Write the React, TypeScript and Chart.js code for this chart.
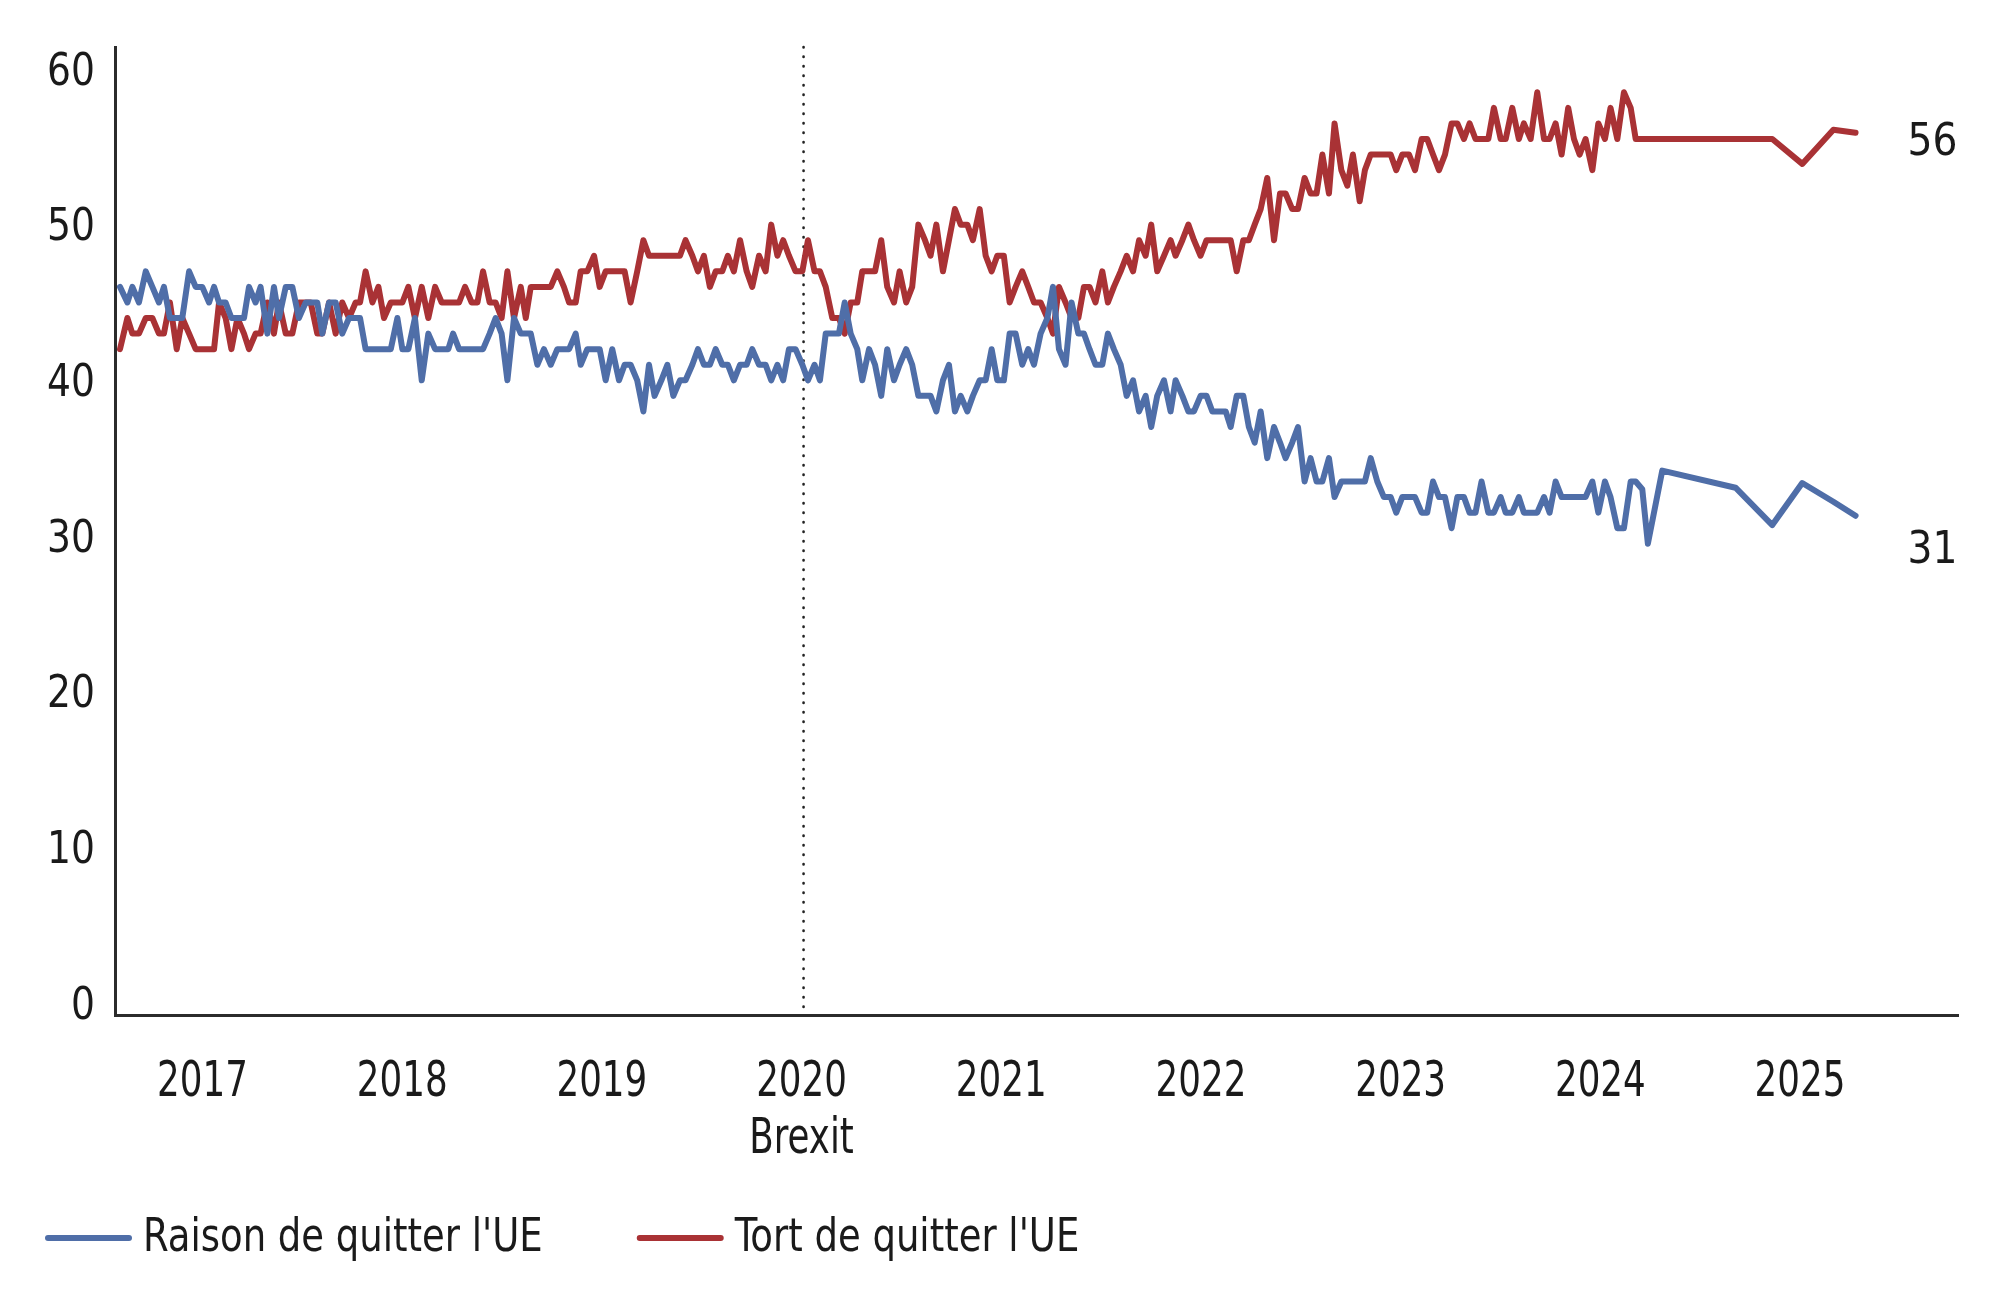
import React, { useEffect, useRef } from "react";
import { Chart, registerables } from "chart.js";

Chart.register(...registerables);

// Survey dates (decimal years)
const DATES = [
  2016.587, 2016.624, 2016.649, 2016.682, 2016.716, 2016.749, 2016.782, 2016.807, 2016.837, 2016.871,
  2016.899, 2016.933, 2016.966, 2016.999, 2017.033, 2017.058, 2017.083, 2017.116, 2017.145, 2017.175,
  2017.208, 2017.233, 2017.266, 2017.291, 2017.325, 2017.358, 2017.383, 2017.417, 2017.45, 2017.483,
  2017.517, 2017.542, 2017.575, 2017.6, 2017.634, 2017.667, 2017.7, 2017.734, 2017.767,
  2017.789, 2017.817, 2017.851, 2017.881, 2017.909, 2017.943, 2017.976, 2018.001, 2018.031, 2018.064,
  2018.098, 2018.131, 2018.165, 2018.198, 2018.231, 2018.255, 2018.285, 2018.315, 2018.348, 2018.377,
  2018.405, 2018.438, 2018.468, 2018.498, 2018.527, 2018.56, 2018.594, 2018.619, 2018.644, 2018.677,
  2018.71, 2018.744, 2018.777, 2018.81, 2018.836, 2018.869, 2018.894, 2018.927, 2018.961, 2018.989, 2019.019,
  2019.052, 2019.086, 2019.114, 2019.144, 2019.177, 2019.208, 2019.236, 2019.264, 2019.298, 2019.328,
  2019.358, 2019.391, 2019.419, 2019.453, 2019.481, 2019.511, 2019.541, 2019.57, 2019.603, 2019.631,
  2019.661, 2019.692, 2019.725, 2019.753, 2019.787, 2019.82, 2019.848, 2019.879, 2019.908, 2019.937,
  2019.97, 2020.004, 2020.032, 2020.065, 2020.092, 2020.121, 2020.154, 2020.187, 2020.216, 2020.246,
  2020.279, 2020.304, 2020.338, 2020.368, 2020.399, 2020.429, 2020.463, 2020.491, 2020.524, 2020.554,
  2020.585, 2020.618, 2020.646, 2020.675, 2020.708, 2020.738, 2020.768, 2020.797, 2020.83, 2020.858,
  2020.892, 2020.922, 2020.952, 2020.98, 2021.013, 2021.042, 2021.072, 2021.105, 2021.135, 2021.164,
  2021.197, 2021.231, 2021.259, 2021.289, 2021.322, 2021.352, 2021.386, 2021.414, 2021.442, 2021.472,
  2021.506, 2021.534, 2021.564, 2021.598, 2021.628, 2021.66, 2021.69, 2021.723, 2021.751, 2021.781,
  2021.815, 2021.848, 2021.873, 2021.907, 2021.937, 2021.965, 2021.998, 2022.028, 2022.057, 2022.09,
  2022.124, 2022.149, 2022.179, 2022.212, 2022.24, 2022.269, 2022.299, 2022.332, 2022.366, 2022.396,
  2022.424, 2022.457, 2022.486, 2022.519, 2022.549, 2022.579, 2022.608, 2022.641, 2022.669, 2022.703,
  2022.733, 2022.761, 2022.795, 2022.821, 2022.85, 2022.883, 2022.916, 2022.95, 2022.978,
  2023.008, 2023.042, 2023.072, 2023.105, 2023.133, 2023.162, 2023.192, 2023.222, 2023.255, 2023.284,
  2023.317, 2023.345, 2023.375, 2023.405, 2023.439, 2023.467, 2023.501, 2023.526, 2023.559, 2023.592,
  2023.617, 2023.651, 2023.684, 2023.718, 2023.746, 2023.776, 2023.806, 2023.839, 2023.868, 2023.896,
  2023.926, 2023.96, 2023.99,
  2024.023, 2024.051, 2024.085, 2024.118, 2024.152, 2024.177, 2024.21, 2024.238, 2024.31, 2024.677,
  2024.861, 2025.011, 2025.167, 2025.278,
];

// "Raison de quitter l'UE" (%)
const RAISON = [
  46, 45, 46, 45, 47, 46, 45, 46, 44, 44,
  44, 47, 46, 46, 45, 46, 45, 45, 44, 44,
  44, 46, 45, 46, 43, 46, 44, 46, 46, 44,
  45, 45, 45, 43, 45, 45, 43, 44, 44,
  44, 42, 42, 42, 42, 42, 44, 42, 42, 44,
  40, 43, 42, 42, 42, 43, 42, 42, 42, 42,
  42, 43, 44, 43, 40, 44, 43, 43, 43, 41,
  42, 41, 42, 42, 42, 43, 41, 42, 42, 42, 40,
  42, 40, 41, 41, 40, 38, 41, 39, 40, 41,
  39, 40, 40, 41, 42, 41, 41, 42, 41, 41,
  40, 41, 41, 42, 41, 41, 40, 41, 40, 42,
  42, 41, 40, 41, 40, 43, 43, 43, 45, 43,
  42, 40, 42, 41, 39, 42, 40, 41, 42, 41,
  39, 39, 39, 38, 40, 41, 38, 39, 38, 39,
  40, 40, 42, 40, 40, 43, 43, 41, 42, 41,
  43, 44, 46, 42, 41, 45, 43, 43, 42, 41,
  41, 43, 42, 41, 39, 40, 38, 39, 37, 39,
  40, 38, 40, 39, 38, 38, 39, 39, 38, 38,
  38, 37, 39, 39, 37, 36, 38, 35, 37, 36,
  35, 36, 37, 33.5, 35, 33.5, 33.5, 35, 32.5, 33.5,
  33.5, 33.5, 33.5, 33.5, 35, 33.5, 32.5, 32.5, 31.5,
  32.5, 32.5, 32.5, 31.5, 31.5, 33.5, 32.5, 32.5, 30.5, 32.5,
  32.5, 31.5, 31.5, 33.5, 31.5, 31.5, 32.5, 31.5, 31.5, 32.5,
  31.5, 31.5, 31.5, 32.5, 31.5, 33.5, 32.5, 32.5, 32.5, 32.5,
  32.5, 33.5, 31.5,
  33.5, 32.5, 30.5, 30.5, 33.5, 33.5, 33, 29.5, 34.2, 33.1,
  30.7, 33.4, 32.2, 31.3,
];

// "Tort de quitter l'UE" (%)
const TORT = [
  42, 44, 43, 43, 44, 44, 43, 43, 45, 42,
  44, 43, 42, 42, 42, 42, 45, 44, 42, 44,
  43, 42, 43, 43, 45, 43, 45, 43, 43, 45,
  45, 45, 43, 43, 45, 43, 45, 44, 45,
  45, 47, 45, 46, 44, 45, 45, 45, 46, 44,
  46, 44, 46, 45, 45, 45, 45, 46, 45, 45,
  47, 45, 45, 44, 47, 44, 46, 44, 46, 46,
  46, 46, 47, 46, 45, 45, 47, 47, 48, 46, 47,
  47, 47, 47, 45, 47, 49, 48, 48, 48, 48,
  48, 48, 49, 48, 47, 48, 46, 47, 47, 48,
  47, 49, 47, 46, 48, 47, 50, 48, 49, 48,
  47, 47, 49, 47, 47, 46, 44, 44, 43, 45,
  45, 47, 47, 47, 49, 46, 45, 47, 45, 46,
  50, 49, 48, 50, 47, 49, 51, 50, 50, 49,
  51, 48, 47, 48, 48, 45, 46, 47, 46, 45,
  45, 44, 43, 46, 45, 44, 44, 46, 46, 45,
  47, 45, 46, 47, 48, 47, 49, 48, 50, 47,
  48, 49, 48, 49, 50, 49, 48, 49, 49, 49,
  49, 49, 47, 49, 49, 50, 51, 53, 49, 52,
  52, 51, 51, 53, 52, 52, 54.5, 52, 56.5, 53.5,
  52.5, 54.5, 51.5, 53.5, 54.5, 54.5, 54.5, 54.5, 53.5,
  54.5, 54.5, 53.5, 55.5, 55.5, 54.5, 53.5, 54.5, 56.5, 56.5,
  55.5, 56.5, 55.5, 55.5, 55.5, 57.5, 55.5, 55.5, 57.5, 55.5,
  56.5, 55.5, 58.5, 55.5, 55.5, 56.5, 54.5, 57.5, 55.5, 54.5,
  55.5, 53.5, 56.5,
  55.5, 57.5, 55.5, 58.5, 57.5, 55.5, 55.5, 55.5, 55.5, 55.5,
  55.5, 53.9, 56.1, 55.9,
];

const YEAR_TICKS = [2017, 2018, 2019, 2020, 2021, 2022, 2023, 2024, 2025];
const Y_TICKS = [0, 10, 20, 30, 40, 50, 60];
const BREXIT_DATE = 2020.01;
const BREXIT_LABEL = "Brexit";
const SERIES_LABELS = ["Raison de quitter l'UE", "Tort de quitter l'UE"];
const END_LABELS = ["31", "56"];

const FONT = "'DejaVu Sans Condensed', 'DejaVu Sans', sans-serif";
const TEXT = "#1a1a1a";
const AXIS = "#2b2b2b";
const BLUE = "#4f6ea8";
const RED = "#a93235";

// horizontal condensing factors (the original uses a narrow typeface)
const K_X = 0.81;
const K_Y = 0.93;
const K_LEGEND = 0.875;
const K_END = 0.97;

const condensedTicksPlugin = {
  id: "condensedTicks",
  beforeDraw(chart: any) {
    const pairs: [string, number][] = [
      ["x", K_X],
      ["y", K_Y],
    ];
    pairs.forEach(([id, k]) => {
      const s = chart.scales[id];
      if (!s || s.__condensed) return;
      s.drawLabels = function (area: any) {
        const items = this.getLabelItems(area);
        const ctx = this.ctx;
        for (const item of items) {
          const o = item.options;
          const lines = Array.isArray(item.label) ? item.label : [item.label];
          ctx.save();
          ctx.translate(o.translation[0], o.translation[1]);
          if (o.rotation) ctx.rotate(o.rotation);
          ctx.scale(k, 1);
          ctx.font = item.font.string;
          ctx.fillStyle = o.color;
          ctx.textAlign = o.textAlign;
          ctx.textBaseline = o.textBaseline;
          lines.forEach((ln: string, i: number) => {
            ctx.fillText(ln, 0, item.textOffset + i * item.font.lineHeight);
          });
          ctx.restore();
        }
      };
      s.__condensed = true;
    });
  },
};

const brexitPlugin = {
  id: "brexitLine",
  beforeDatasetsDraw(chart: any) {
    const { ctx, chartArea, scales } = chart;
    const x = scales.x.getPixelForValue(BREXIT_DATE);
    ctx.save();
    ctx.strokeStyle = "#222";
    ctx.lineWidth = 2.6;
    ctx.lineCap = "round";
    ctx.setLineDash([0.5, 9]);
    ctx.beginPath();
    ctx.moveTo(x, chartArea.top);
    ctx.lineTo(x, chartArea.bottom);
    ctx.stroke();
    ctx.restore();
  },
};

const annotationsPlugin = {
  id: "legendAndEnds",
  afterDraw(chart: any) {
    const { ctx, scales } = chart;
    ctx.save();
    // end labels
    ctx.font = `45px ${FONT}`;
    ctx.fillStyle = TEXT;
    ctx.textAlign = "center";
    ctx.textBaseline = "middle";
    const offsets = [36, 11];
    chart.data.datasets.forEach((ds: any, i: number) => {
      const last = ds.data[ds.data.length - 1];
      const px = scales.x.getPixelForValue(last.x);
      const py = scales.y.getPixelForValue(last.y);
      ctx.save();
      ctx.translate(px + 77, py + offsets[i]);
      ctx.scale(K_END, 1);
      ctx.fillText(END_LABELS[i], 0, 0);
      ctx.restore();
    });
    // legend
    ctx.font = `47px ${FONT}`;
    ctx.textAlign = "left";
    let x = 45;
    const y = 1238;
    chart.data.datasets.forEach((ds: any) => {
      ctx.strokeStyle = ds.borderColor;
      ctx.lineWidth = 6;
      ctx.lineCap = "round";
      ctx.beginPath();
      ctx.moveTo(x + 3, y);
      ctx.lineTo(x + 84, y);
      ctx.stroke();
      ctx.fillStyle = TEXT;
      ctx.save();
      ctx.translate(x + 98, y + 1);
      ctx.scale(K_LEGEND, 1);
      ctx.fillText(ds.label, 0, 0);
      ctx.restore();
      x = x + 98 + ctx.measureText(ds.label).width * K_LEGEND + 94;
    });
    ctx.restore();
  },
};

export default function App() {
  const ref = useRef<HTMLCanvasElement | null>(null);

  useEffect(() => {
    if (!ref.current) return;
    const mk = (vals: number[]) => DATES.map((d, i) => ({ x: d, y: vals[i] }));
    const common = {
      borderWidth: 6,
      pointRadius: 0,
      tension: 0,
      borderJoinStyle: "round" as const,
      borderCapStyle: "round" as const,
      fill: false,
    };
    const chart = new Chart(ref.current, {
      type: "line",
      data: {
        datasets: [
          { label: SERIES_LABELS[0], data: mk(RAISON), borderColor: BLUE, backgroundColor: BLUE, ...common },
          { label: SERIES_LABELS[1], data: mk(TORT), borderColor: RED, backgroundColor: RED, ...common },
        ],
      },
      options: {
        responsive: false,
        animation: false,
        devicePixelRatio: 1,
        layout: { padding: { top: 47, right: 36, left: 0, bottom: 0 } },
        plugins: { legend: { display: false }, tooltip: { enabled: false } },
        scales: {
          x: {
            type: "linear",
            min: 2016.562,
            max: 2025.791,
            afterBuildTicks: (s: any) => {
              s.ticks = YEAR_TICKS.map((v) => ({ value: v }));
            },
            afterFit: (s: any) => {
              s.height = 281;
            },
            grid: { display: false, drawTicks: false },
            border: { display: true, width: 3, color: AXIS },
            ticks: {
              autoSkip: false,
              maxRotation: 0,
              minRotation: 0,
              padding: 40,
              color: TEXT,
              font: { family: FONT, size: 49, lineHeight: 1.16 },
              callback: (v: any) => (v === 2020 ? [String(v), BREXIT_LABEL] : String(v)),
            },
          },
          y: {
            type: "linear",
            min: -0.77,
            max: 61.41,
            afterBuildTicks: (s: any) => {
              s.ticks = Y_TICKS.map((v) => ({ value: v }));
            },
            afterFit: (s: any) => {
              s.width = 115;
            },
            grid: { display: false, drawTicks: false },
            border: { display: true, width: 3, color: AXIS },
            ticks: {
              padding: 20,
              labelOffset: 4,
              color: TEXT,
              font: { family: FONT, size: 45 },
            },
          },
        },
      },
      plugins: [condensedTicksPlugin, brexitPlugin, annotationsPlugin],
    });
    return () => chart.destroy();
  }, []);

  return (
    <div style={{ position: "fixed", left: 0, top: 0, width: 1994, height: 1296, background: "#fff" }}>
      <canvas ref={ref} width={1994} height={1296} style={{ display: "block" }} />
    </div>
  );
}
